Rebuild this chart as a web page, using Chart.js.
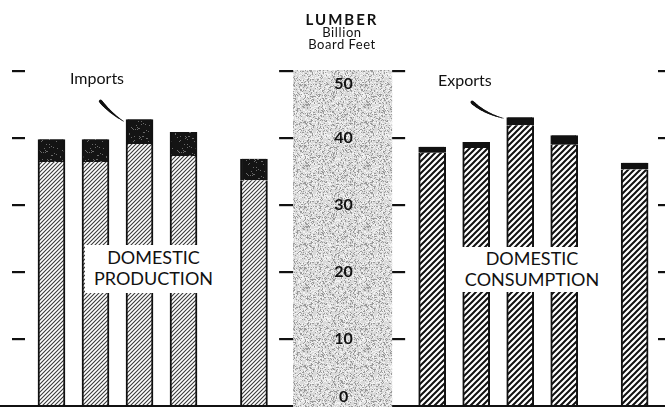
<!DOCTYPE html>
<html>
<head>
<meta charset="utf-8">
<script src="https://cdn.jsdelivr.net/npm/chart.js@4.4.1/dist/chart.umd.min.js"></script>
<style>
body { margin: 0; background: #fff; }
#wrap { position: relative; width: 665px; height: 407px; overflow: hidden; font-family: Lato, "Noto Sans", sans-serif; color: #111; }
#chart { position: absolute; left: 0; top: 0; }
.lbl { position: absolute; white-space: nowrap; line-height: 1; }
.title { left: 242px; width: 200px; text-align: center; }
.box { position: absolute; background: #fff; text-align: center; font-size: 18px; line-height: 21px; }
</style>
</head>
<body>
<div id="wrap">
  <canvas id="chart" width="665" height="407"></canvas>
  <div class="lbl title" style="top:12px;font-size:15px;font-weight:bold;letter-spacing:2px;">LUMBER</div>
  <div class="lbl title" style="top:26px;font-size:13px;letter-spacing:0.6px;">Billion</div>
  <div class="lbl title" style="top:38px;font-size:13px;letter-spacing:0.5px;">Board Feet</div>
  <div class="lbl" style="left:70px;top:70px;font-size:16px;">Imports</div>
  <div class="lbl" style="left:438px;top:72px;font-size:16px;">Exports</div>
  <div class="box" style="left:85px;top:245px;width:137px;height:46px;padding-top:2px;">DOMESTIC<br>PRODUCTION</div>
  <div class="box" style="left:460px;top:247px;width:144px;height:44px;padding-top:1px;">DOMESTIC<br>CONSUMPTION</div>
</div>
<script>
// values, billion board feet
const prodDomestic = [36.4, 36.4, 39.1, 37.3, 33.7];
const prodImports = [3.4, 3.4, 3.7, 3.6, 3.2];
const consDomestic = [37.8, 38.5, 41.9, 39.0, 35.3];
const consExports = [0.9, 0.9, 1.2, 1.4, 1.0];

// bar slots on the horizontal axis (left panel, right panel)
const prodPos = [1, 2, 3, 4, 5.6];
const consPos = [9.65, 10.65, 11.65, 12.65, 14.25];

const yTicks = [0, 10, 20, 30, 40, 50];
const band = [6.49, 8.74]; // middle scale strip

const canvas = document.getElementById('chart');
const ctx = canvas.getContext('2d');

function hatch(size, width, color) {
	const c = document.createElement('canvas');
	c.width = c.height = size;
	const g = c.getContext('2d');
	g.fillStyle = '#fff';
	g.fillRect(0, 0, size, size);
	g.strokeStyle = color;
	g.lineWidth = width;
	g.beginPath();
	g.moveTo(-1, size + 1); g.lineTo(size + 1, -1);
	g.moveTo(-size / 2 - 1, size / 2 + 1); g.lineTo(size / 2 + 1, -size / 2 - 1);
	g.moveTo(size / 2 - 1, size * 1.5 + 1); g.lineTo(size * 1.5 + 1, size / 2 - 1);
	g.stroke();
	return ctx.createPattern(c, 'repeat');
}

function hash(x, y) {
	let h = (x * 374761393 + y * 668265263) | 0;
	h = Math.imul(h ^ (h >>> 13), 1274126177);
	h = h ^ (h >>> 16);
	return (h >>> 0) % 1000;
}

function speckle(size, base, dark, light, darkPct, lightPct) {
	const c = document.createElement('canvas');
	c.width = c.height = size;
	const g = c.getContext('2d');
	g.fillStyle = base;
	g.fillRect(0, 0, size, size);
	for (let y = 0; y < size; y++) {
		for (let x = 0; x < size; x++) {
			const v = hash(x, y) / 10;
			if (v < darkPct) { g.fillStyle = dark; g.fillRect(x, y, 1, 1); }
			else if (v >= 100 - lightPct) { g.fillStyle = light; g.fillRect(x, y, 1, 1); }
		}
	}
	return ctx.createPattern(c, 'repeat');
}

const prodFill = hatch(4, 1.1, '#3a3a3a');
const consFill = hatch(6, 2, '#111');
const importFill = speckle(23, '#141414', '#141414', '#6a6a6a', 0, 7);
const bandFill = speckle(61, '#d9d9d9', '#9a9a9a', '#f3f3f3', 20, 24);

function taper(g, p0, p1, p2, w0, w1) {
	const n = 24;
	let prev = p0;
	g.lineCap = 'round';
	g.strokeStyle = '#111';
	for (let i = 1; i <= n; i++) {
		const t = i / n;
		const x = (1 - t) * (1 - t) * p0[0] + 2 * (1 - t) * t * p1[0] + t * t * p2[0];
		const y = (1 - t) * (1 - t) * p0[1] + 2 * (1 - t) * t * p1[1] + t * t * p2[1];
		g.lineWidth = w0 + (w1 - w0) * t;
		g.beginPath();
		g.moveTo(prev[0], prev[1]);
		g.lineTo(x, y);
		g.stroke();
		prev = [x, y];
	}
}

const decor = {
	id: 'decor',
	beforeDatasetsDraw(chart) {
		const g = chart.ctx;
		const xs = chart.scales.x, ys = chart.scales.y;
		const bx0 = xs.getPixelForValue(band[0]), bx1 = xs.getPixelForValue(band[1]);
		const top = ys.getPixelForValue(50) - 1;
		g.save();
		g.fillStyle = bandFill;
		g.fillRect(bx0, top, bx1 - bx0, chart.height - top);
		g.restore();
	},
	afterDatasetsDraw(chart) {
		const g = chart.ctx;
		const xs = chart.scales.x, ys = chart.scales.y;
		const bx0 = xs.getPixelForValue(band[0]), bx1 = xs.getPixelForValue(band[1]);
		const area = chart.chartArea;
		g.save();

		// base line, broken by the scale strip
		const y0 = ys.getPixelForValue(0);
		g.fillStyle = '#111';
		g.fillRect(0, y0 - 1, bx0, 2.5);
		g.fillRect(bx1, y0 - 1, chart.width - bx1, 2.5);

		// tick dashes
		yTicks.forEach(v => {
			if (v === 0) return;
			const y = ys.getPixelForValue(v);
			g.fillRect(12, y - 1, 13, 2.2);
			g.fillRect(bx0 - 14, y - 1, 14, 2.2);
			g.fillRect(bx1, y - 1, 13, 2.2);
			g.fillRect(chart.width - 7, y - 1, 7, 2.2);
		});

		// scale numbers inside the strip
		g.font = 'bold 16px Lato, sans-serif';
		g.textAlign = 'center';
		g.textBaseline = 'middle';
		g.fillStyle = '#111';
		yTicks.forEach(v => {
			let y = ys.getPixelForValue(v);
			y = Math.max(area.top + 13, Math.min(area.bottom - 9, y));
			g.fillText(String(v), (bx0 + bx1) / 2 + 1, y);
		});

		// pointers for imports / exports
		const pi = 2;
		const px = xs.getPixelForValue(prodPos[pi]);
		const py = ys.getPixelForValue(prodDomestic[pi] + prodImports[pi]);
		taper(g, [px - 39, py - 18], [px - 29, py - 6], [px - 16, py + 2], 3.5, 0.6);
		const cx = xs.getPixelForValue(consPos[pi]);
		const cy = ys.getPixelForValue(consDomestic[pi] + consExports[pi]);
		taper(g, [cx - 48, cy - 15], [cx - 36, cy - 4], [cx - 17, cy + 1], 3.5, 0.6);
		g.restore();
	}
};

const barStyle = {
	barThickness: 27,
	borderColor: '#111',
	borderWidth: { left: 2, right: 2, top: 0, bottom: 0 },
	borderSkipped: false
};

new Chart(ctx, {
	type: 'bar',
	data: {
		datasets: [
			Object.assign({ label: 'Domestic production', backgroundColor: prodFill,
				data: prodPos.map((x, i) => ({ x: x, y: prodDomestic[i] })) }, barStyle),
			Object.assign({ label: 'Imports', backgroundColor: importFill,
				data: prodPos.map((x, i) => ({ x: x, y: prodImports[i] })) }, barStyle),
			Object.assign({ label: 'Domestic consumption', backgroundColor: consFill,
				data: consPos.map((x, i) => ({ x: x, y: consDomestic[i] })) }, barStyle),
			Object.assign({ label: 'Exports', backgroundColor: '#111',
				data: consPos.map((x, i) => ({ x: x, y: consExports[i] })) }, barStyle)
		]
	},
	options: {
		responsive: false,
		animation: false,
		devicePixelRatio: 1,
		layout: { padding: { top: 71, bottom: 1, left: 0, right: 0 } },
		plugins: { legend: { display: false }, tooltip: { enabled: false } },
		scales: {
			x: { type: 'linear', min: -0.17, max: 14.94, offset: false, stacked: true, display: false },
			y: { min: 0, max: 50, stacked: true, display: false }
		}
	},
	plugins: [decor]
});
</script>
</body>
</html>
